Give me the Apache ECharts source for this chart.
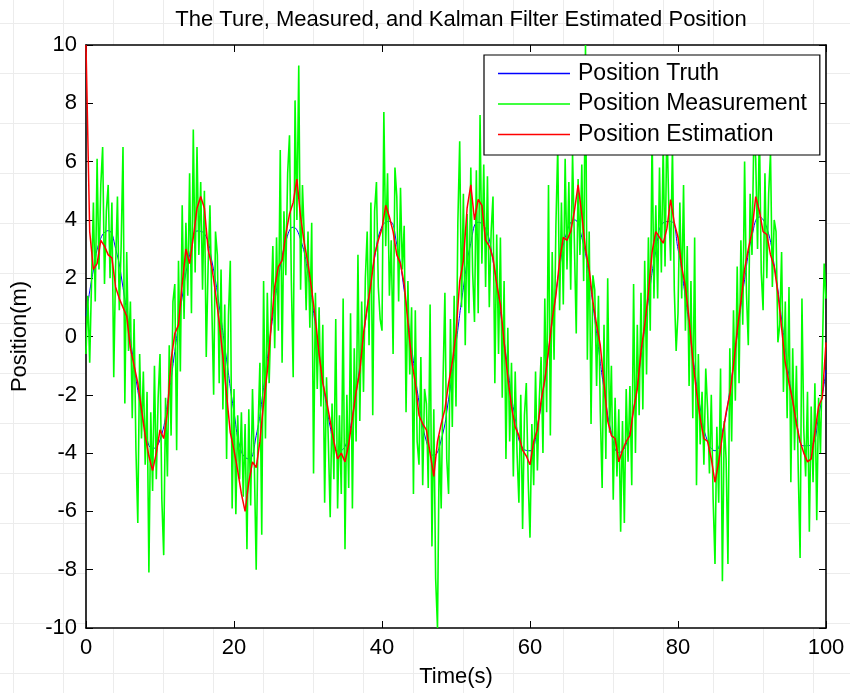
<!DOCTYPE html>
<html>
<head>
<meta charset="utf-8">
<script src="https://cdn.jsdelivr.net/npm/echarts@6/dist/echarts.min.js"></script>
<style>
html,body{margin:0;padding:0;background:#ffffff;}
#chart{width:850px;height:693px;}
</style>
</head>
<body>
<div id="chart"></div>
<script>
// ---- data ----
const titleText = 'The Ture, Measured, and Kalman Filter Estimated Position';
const seriesNames = ['Position Truth', 'Position Measurement', 'Position Estimation'];
const xTicks = [0, 20, 40, 60, 80, 100];
const yTicks = [-10, -8, -6, -4, -2, 0, 2, 4, 6, 8, 10];

// true position, sampled every 1 s (t = 0 .. 100)
const truthStep = 1;
const truthValues = [
  0.70, 2.28, 3.37, 3.63, 3.02, 1.68, -0.08, -1.85, -3.20, -3.85,
  -3.55, -2.30, -0.51, 1.35, 2.80, 3.62, 3.53, 2.60, 1.05, -0.80,
  -2.60, -3.95, -4.20, -3.40, -1.75, 0.22, 2.00, 3.25, 3.75, 3.33,
  2.15, 0.37, -1.50, -3.10, -3.93, -3.78, -2.72, -1.00, 0.97, 2.70,
  3.78, 3.95, 3.15, 1.58, -0.37, -2.25, -3.60, -4.08, -3.55, -2.15,
  -0.25, 1.67, 3.20, 3.92, 3.70, 2.60, 0.85, -1.10, -2.80, -3.83,
  -3.92, -3.06, -1.45, 0.51, 2.35, 3.60, 4.00, 3.40, 2.00, 0.11,
  -1.80, -3.30, -3.98, -3.70, -2.50, -0.72, 1.25, 2.92, 3.90, 3.95,
  3.00, 1.33, -0.65, -2.45, -3.60, -3.92, -3.27, -1.85, 0.03, 1.95,
  3.45, 4.10, 3.73, 2.45, 0.60, -1.35, -2.90, -3.75, -3.72, -2.75,
  -1.15
];

// noisy measurement, sampled every 0.25 s (t = 0 .. 100)
const measStep = 0.25;
const measValues = [
  -0.6, 1.4, -0.9, 1.9, 4.6, 1.2, 6.1, 2.3,
  5.2, 6.5, 1.8, 4.3, 5.2, 2.0, 4.6, -1.4,
  2.4, 4.8, 0.9, 3.1, 6.5, -2.3, 2.9, -0.5,
  1.2, -2.8, 0.6, -3.9, -6.4, -0.6, -3.5, -1.2,
  -4.4, -1.9, -8.1, -2.6, -5.3, -1.0, -4.9, -2.1,
  -0.6, -5.6, -7.5, -2.1, -4.8, -0.3, -3.4, 1.2,
  1.8, -3.9, 2.6, -1.2, 4.5, 0.6, 3.9, 1.4,
  5.6, 0.8, 7.1, 2.2, 6.5, 2.8, 5.3, 1.6,
  5.0, -0.7, 2.4, 4.5, 1.1, -2.0, 3.6, 2.8,
  -1.6, 2.3, -2.5, 1.1, -4.2, 0.7, 2.6, -5.9,
  -1.8, -6.1, -2.7, -4.9, -2.6, -5.5, -3.0, -7.3,
  -2.5, -5.8, -1.8, -4.4, -8.0, -3.2, -0.9, -6.8,
  1.9, -3.5, 1.5, -1.6, 0.8, 3.1, -0.4, 3.4,
  0.2, 6.4, -0.9, 4.3, 2.1, 5.6, 6.9, 1.9,
  -1.4, 8.1, 4.0, 9.3, 1.6, 5.2, 3.4, 0.9,
  3.6, 0.3, 3.9, -4.7, 1.5, -1.8, 1.0, -2.4,
  0.4, -5.7, -1.4, -3.6, -6.2, -2.3, -4.9, 0.6,
  -5.9, -2.7, -5.4, 1.3, -7.3, -2.0, -5.2, 0.8,
  -5.9, -0.4, -3.6, 2.8, -2.9, 1.2, -1.9, 2.0,
  3.6, -0.3, 4.6, -2.7, 4.3, 5.3, 1.7, 0.6,
  0.2, 7.7, 3.1, 5.6, 1.4, 3.3, -0.6, 5.8,
  4.8, 1.2, 5.1, 2.3, 3.8, -2.6, 1.9, -1.3,
  1.0, -5.4, 0.9, -3.6, -4.4, -0.7, -5.1, -1.8,
  -2.3, -5.2, 1.1, -7.2, -2.5, -8.3, -10.0, -3.4,
  -5.9, -1.5, 1.5, -4.2, -5.4, 0.6, -3.1, 1.4,
  -2.4, 3.9, 6.7, 1.0, 4.9, -0.3, 4.2, 0.8,
  5.8, 2.2, 0.5, 5.7, 0.8, 7.6, 2.5, 5.9,
  1.7, 5.5, 1.0, 3.6, 4.8, -1.6, 3.5, -0.6,
  3.4, -2.1, 1.9, -4.2, 0.3, -3.6, -0.9, -4.8,
  -1.2, -4.0, -5.7, -2.0, -6.6, -2.7, -1.6, -4.9,
  -6.9, -3.0, -5.1, -1.2, -4.6, -2.2, -0.7, -4.0,
  1.3, -2.6, 5.2, -3.4, 2.9, -0.8, 3.8, 6.5,
  0.9, 4.6, 1.1, 6.1, 2.3, 5.3, 1.6, 6.3,
  6.3, 0.1, 5.4, 2.8, 5.9, 1.9, 10.0, -0.8,
  3.6, -3.0, 2.1, 1.6, -1.7, 1.4, -2.6, -5.2,
  0.4, -4.2, 2.0, -3.3, -1.0, -5.6, -2.1, -4.8,
  -2.5, -6.7, -2.9, -6.4, -1.8, -4.3, -1.7, -5.1,
  1.8, -4.0, 0.4, -2.7, 1.5, -2.5, 2.6, -1.3,
  3.4, 0.2, 7.0, 1.3, 4.5, 1.3, 5.8, 2.2,
  6.6, 2.4, 7.4, 4.5, 2.6, 6.5, 1.6, -0.5,
  0.8, 4.6, 1.3, 5.2, 0.2, 3.1, -1.7, 1.9,
  -2.8, 3.4, -5.1, -0.6, -3.7, -1.9, -4.4, -1.1,
  -2.5, -4.7, -2.0, -5.6, -7.8, -3.1, -5.7, -1.1,
  -8.4, -2.9, -4.2, -7.8, -0.4, -3.6, 0.9, -2.2,
  2.4, -1.6, 3.3, 0.4, 6.0, 1.5, -0.3, 4.9,
  2.8, 6.9, 6.1, 3.0, 7.2, 2.2, 0.9, 5.6,
  2.0, 4.9, 6.3, 1.7, 4.0, 3.6, -0.2, 0.4,
  2.9, -1.9, 1.2, -2.8, 1.7, -5.0, -0.4, -3.9,
  -1.0, -4.6, -7.6, 1.3, -3.2, -4.8, -1.9, -6.7,
  -2.4, -5.0, -1.6, -6.3, -2.1, -4.0, -0.7, 2.5,
  1.3
];

// Kalman filter estimate, sampled every 0.5 s (t = 0 .. 100)
const estStep = 0.5;
const estValues = [
  10.0, 3.6, 2.3, 2.5, 3.3, 3.1, 2.8, 2.7, 1.7, 1.3,
  1.0, 0.7, -0.4, -1.0, -1.6, -2.5, -3.4, -4.1, -4.6, -4.0,
  -3.2, -3.5, -2.6, -0.8, 0.1, 0.4, 1.8, 3.0, 2.5, 3.4,
  4.4, 4.8, 4.4, 3.0, 2.4, 1.5, 0.5, -0.7, -2.0, -3.3,
  -3.9, -4.6, -5.4, -6.0, -5.0, -4.3, -4.5, -3.6, -2.3, -1.2,
  0.3, 1.7, 2.4, 2.6, 3.5, 4.2, 4.6, 5.4, 4.1, 3.2,
  2.5, 1.6, 0.6, -0.6, -1.6, -2.2, -2.9, -3.6, -4.2, -4.0,
  -4.3, -3.7, -2.8, -1.9, -1.2, 0.1, 1.0, 1.8, 2.8, 3.3,
  3.7, 4.5, 4.1, 3.6, 2.8, 2.5, 1.8, 0.5, -0.8, -1.6,
  -2.7, -3.0, -3.2, -4.0, -4.8, -3.6, -3.0, -2.5, -1.6, -0.9,
  0.1, 1.9, 2.6, 4.4, 5.2, 4.0, 4.7, 4.5, 3.3, 3.1,
  2.7, 1.8, 1.1, -0.2, -1.4, -2.4, -3.1, -3.4, -3.9, -4.1,
  -4.4, -3.6, -3.2, -2.2, -1.5, -0.5, 0.6, 1.4, 2.6, 3.4,
  3.3, 3.6, 4.3, 5.2, 4.2, 3.0, 2.3, 1.2, 0.4, -0.3,
  -1.6, -2.9, -3.4, -3.5, -4.3, -3.9, -3.6, -3.4, -2.5, -1.8,
  -0.5, 0.4, 1.5, 2.9, 3.6, 3.4, 3.2, 3.7, 4.7, 3.9,
  3.4, 2.4, 1.7, 0.6, -0.8, -1.9, -2.8, -3.5, -3.6, -4.2,
  -5.0, -4.3, -3.4, -2.6, -2.0, -1.0, 0.2, 1.2, 2.3, 3.0,
  3.6, 4.8, 4.3, 3.6, 3.5, 2.8, 2.4, 1.5, 0.3, -0.9,
  -1.6, -2.2, -3.0, -3.6, -4.0, -4.3, -4.2, -3.3, -2.4, -2.1,
  -0.2
];

// ---- build chart ----
function toPairs(values, step) {
  return values.map(function (v, i) { return [Math.round(i * step * 100) / 100, v]; });
}

const FONT = '"Liberation Sans", Arial, sans-serif';
const W = 850, H = 693;
const gridL = 86, gridR = 826, gridT = 45, gridB = 628;

// faint paper-grid in the page background
const bgLines = [];
for (let x = 13; x < W; x += 50) {
  bgLines.push({ type: 'line', silent: true, z: -10,
    shape: { x1: x + 0.5, y1: 0, x2: x + 0.5, y2: H },
    style: { stroke: '#ececec', lineWidth: 1 } });
}
for (let y = 23; y < H; y += 50) {
  bgLines.push({ type: 'line', silent: true, z: -10,
    shape: { x1: 0, y1: y + 0.5, x2: W, y2: y + 0.5 },
    style: { stroke: '#ececec', lineWidth: 1 } });
}

const axisCommon = {
  axisLine: { show: true, onZero: false, lineStyle: { color: '#000', width: 1.6 } },
  axisTick: { show: true, inside: true, length: 7, lineStyle: { color: '#000', width: 1 } },
  splitLine: { show: false },
  minorTick: { show: false }
};

const xMin = xTicks[0], xMax = xTicks[xTicks.length - 1], xInt = xTicks[1] - xTicks[0];
const yMin = yTicks[0], yMax = yTicks[yTicks.length - 1], yInt = yTicks[1] - yTicks[0];

const chart = echarts.init(document.getElementById('chart'), null, { renderer: 'canvas' });
chart.setOption({
  animation: false,
  backgroundColor: '#ffffff',
  textStyle: { fontFamily: FONT },
  graphic: bgLines,
  title: {
    text: titleText,
    left: 456, top: 4, textAlign: 'center',
    textStyle: { fontFamily: FONT, fontSize: 22, fontWeight: 'normal', color: '#000' }
  },
  grid: {
    left: gridL, right: W - gridR, top: gridT, bottom: H - gridB,
    show: true, backgroundColor: '#ffffff', borderWidth: 0, containLabel: false
  },
  legend: {
    data: seriesNames,
    orient: 'vertical',
    left: 484, top: 55,
    backgroundColor: '#ffffff',
    borderColor: '#000', borderWidth: 1.2,
    padding: [7, 13, 9, 14],
    itemWidth: 72, itemHeight: 1.5, itemGap: 7.5,
    icon: 'rect',
    textStyle: { fontFamily: FONT, fontSize: 23, color: '#000', lineHeight: 23, padding: [0, 0, 0, 3] }
  },
  xAxis: [
    Object.assign({}, axisCommon, {
      type: 'value', min: xMin, max: xMax, interval: xInt, position: 'bottom',
      name: 'Time(s)', nameLocation: 'middle', nameGap: 38,
      nameTextStyle: { fontFamily: FONT, fontSize: 22, color: '#000' },
      axisLabel: { show: true, color: '#000', fontFamily: FONT, fontSize: 22, margin: 9 }
    }),
    Object.assign({}, axisCommon, {
      type: 'value', min: xMin, max: xMax, interval: xInt, position: 'top',
      axisLabel: { show: false }
    })
  ],
  yAxis: [
    Object.assign({}, axisCommon, {
      type: 'value', min: yMin, max: yMax, interval: yInt, position: 'left',
      name: 'Position(m)', nameLocation: 'middle', nameGap: 55, nameRotate: 90,
      nameTextStyle: { fontFamily: FONT, fontSize: 22, color: '#000' },
      axisLabel: { show: true, color: '#000', fontFamily: FONT, fontSize: 22, margin: 9 }
    }),
    Object.assign({}, axisCommon, {
      type: 'value', min: yMin, max: yMax, interval: yInt, position: 'right',
      axisLabel: { show: false }
    })
  ],
  series: [
    {
      name: seriesNames[0], type: 'line', data: toPairs(truthValues, truthStep),
      smooth: true, symbol: 'none', showSymbol: false, clip: true,
      lineStyle: { color: '#0000ff', width: 1 }, itemStyle: { color: '#0000ff' }, z: 2
    },
    {
      name: seriesNames[1], type: 'line', data: toPairs(measValues, measStep),
      symbol: 'none', showSymbol: false, clip: true,
      lineStyle: { color: '#00ff00', width: 1.6 }, itemStyle: { color: '#00ff00' }, z: 3
    },
    {
      name: seriesNames[2], type: 'line', data: toPairs(estValues, estStep),
      symbol: 'none', showSymbol: false, clip: true,
      lineStyle: { color: '#ff0000', width: 1.5 }, itemStyle: { color: '#ff0000' }, z: 4
    }
  ]
});
</script>
</body>
</html>
